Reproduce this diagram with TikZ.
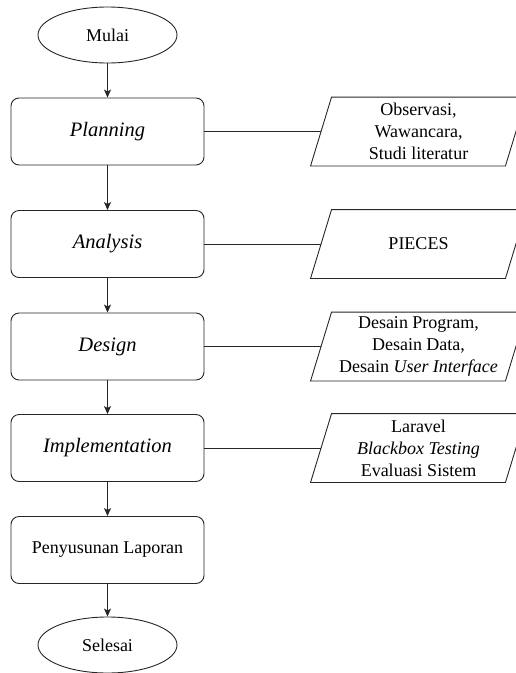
\documentclass[tikz,border=0pt]{standalone}
\usepackage{fontspec}
\setmainfont{Liberation Serif}
\usetikzlibrary{arrows.meta,shapes.geometric}

\begin{document}
\begin{tikzpicture}[x=1pt, y=-1pt, line width=0.9pt,
    every node/.style={font=\fontsize{18}{22}\selectfont, draw=black!85, inner sep=2pt, align=center},
    terminal/.style={ellipse, minimum width=139pt, minimum height=56pt},
    process/.style={rectangle, rounded corners=8pt, minimum width=193pt, minimum height=67pt,
      font=\fontsize{20.5}{24}\selectfont\itshape},
    % parallelogram drawn round a plain box
    io/.style={draw=none, minimum width=194pt, minimum height=68pt,
      append after command={\pgfextra{\draw[black!85]
        ([xshift=-10.5pt]\tikzlastnode.south west) -- ([xshift=10.5pt]\tikzlastnode.north west)
        -- ([xshift=10.5pt]\tikzlastnode.north east) -- ([xshift=-10.5pt]\tikzlastnode.south east)
        -- cycle;}}},
    flow/.style={draw=black!85, -{Stealth[length=8pt,width=7pt,inset=2pt]}}]
  \useasboundingbox (0,0) rectangle (515,673);
  % main flow
  \node[terminal] (mulai) at (107.5,35) {Mulai};
  \node[process] (plan) at (107.5,131.5) {Planning};
  \node[process] (anal) at (107.5,244) {Analysis};
  \node[process] (desg) at (107.5,346.5) {Design};
  \node[process] (impl) at (107.5,448) {Implementation};
  \node[process, font=\fontsize{18}{22}\selectfont] (lapor) at (107.5,550) {Penyusunan Laporan};
  \node[terminal] (selesai) at (107.5,645) {Selesai};
  % inputs
  \node[io] (obs) at (418.5,131.5) {Observasi,\\Wawancara,\\Studi literatur};
  \node[io] (pieces) at (418.5,244) {PIECES};
  \node[io] (dsn) at (418.5,346.5) {Desain Program,\\Desain Data,\\Desain \textit{User Interface}};
  \node[io] (tool) at (418.5,448) {Laravel\\\textit{Blackbox Testing}\\Evaluasi Sistem};
  \draw[flow] (mulai) -- (plan);
  \draw[flow] (plan) -- (anal);
  \draw[flow] (anal) -- (desg);
  \draw[flow] (desg) -- (impl);
  \draw[flow] (impl) -- (lapor);
  \draw[flow] (lapor) -- (selesai);
  \draw[draw=black!85] (plan) -- (obs);
  \draw[draw=black!85] (anal) -- (pieces);
  \draw[draw=black!85] (desg) -- (dsn);
  \draw[draw=black!85] (impl) -- (tool);
\end{tikzpicture}
\end{document}
